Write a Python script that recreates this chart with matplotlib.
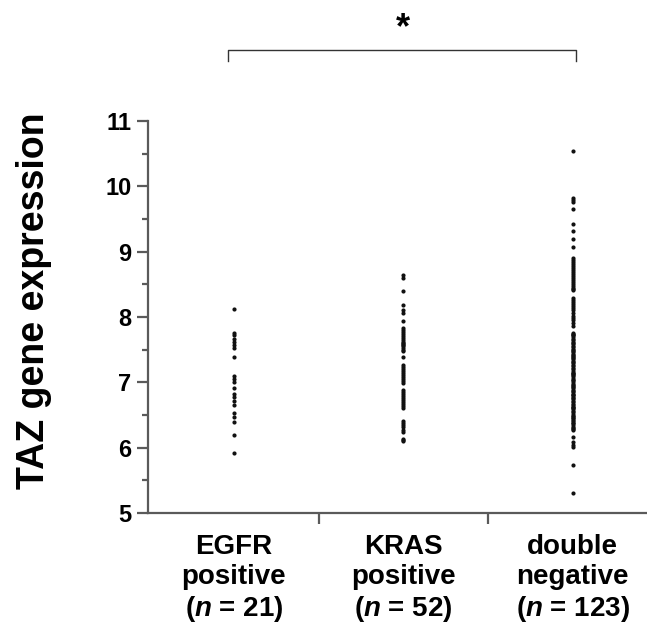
import matplotlib
matplotlib.use("Agg")
import matplotlib.pyplot as plt

plt.rcParams["font.family"] = ["Liberation Sans", "DejaVu Sans"]
plt.rcParams["mathtext.fontset"] = "custom"
plt.rcParams["mathtext.it"] = "Liberation Sans:italic:bold"
plt.rcParams["mathtext.rm"] = "Liberation Sans:bold"

# ---- data ----
groups = ["EGFR\npositive\n($n$ = 21)", "KRAS\npositive\n($n$ = 52)", "double\nnegative\n($n$ = 123)"]

egfr = [8.13, 7.76, 7.72, 7.67, 7.62, 7.57, 7.52, 7.39, 7.10, 7.05, 7.01,
        6.91, 6.82, 6.77, 6.71, 6.65, 6.53, 6.47, 6.40, 6.20, 5.92]

kras = [8.64, 8.60, 8.40, 8.18, 8.11, 8.06, 7.94,
        7.83, 7.80, 7.77, 7.74, 7.71, 7.68, 7.65, 7.62, 7.60, 7.58, 7.57, 7.55, 7.52, 7.50, 7.48,
        7.39,
        7.27, 7.24, 7.20, 7.17, 7.14, 7.11, 7.08, 7.05, 7.02, 6.99,
        6.88, 6.85, 6.82, 6.79, 6.76, 6.73, 6.70, 6.67, 6.64, 6.61,
        6.41, 6.38, 6.35, 6.31, 6.27, 6.24,
        6.14, 6.12, 6.10]

double_neg = [10.54, 9.82, 9.79, 9.76, 9.65, 9.42, 9.31, 9.19, 9.07,
              8.90, 8.87, 8.84, 8.81, 8.78, 8.75, 8.72, 8.69, 8.66, 8.63,
              8.60, 8.57, 8.54, 8.51, 8.48, 8.45, 8.43, 8.41,
              8.29, 8.26, 8.23, 8.20, 8.17, 8.14, 8.10, 8.06, 8.02, 7.98, 7.95, 7.91,
              7.86,
              7.76, 7.745, 7.73, 7.72, 7.69, 7.66, 7.65, 7.62, 7.60, 7.58, 7.55,
              7.54, 7.51, 7.50, 7.48, 7.47, 7.44, 7.42, 7.40, 7.39, 7.37, 7.36, 7.33,
              7.31, 7.29, 7.26, 7.25, 7.22, 7.20, 7.18, 7.15, 7.14, 7.12, 7.11,
              7.09, 7.07, 7.04, 7.03, 7.00, 6.98, 6.96, 6.95, 6.93, 6.92, 6.89,
              6.87, 6.85, 6.82, 6.81, 6.80, 6.78, 6.76, 6.74, 6.71, 6.70, 6.67,
              6.65, 6.63, 6.62, 6.60, 6.59, 6.56, 6.54, 6.52, 6.49, 6.48, 6.46, 6.45,
              6.43, 6.41, 6.38, 6.37, 6.34, 6.32, 6.30, 6.28, 6.27,
              6.17, 6.09, 6.04, 6.01,
              5.73, 5.31]

series = [egfr, kras, double_neg]
yticks = [5, 6, 7, 8, 9, 10, 11]

AXC = "#5a5a5a"

fig = plt.figure(figsize=(6.47, 6.32), dpi=100)
ax = fig.add_axes([148 / 647, 119 / 632, 499 / 647, 392 / 632])

for i, vals in enumerate(series, start=1):
    ax.scatter([i] * len(vals), vals, s=9, color="#111111", linewidths=0, zorder=3)

ax.set_xlim(0.492, 3.44)
ax.set_ylim(5, 11)

for s in ("top", "right"):
    ax.spines[s].set_visible(False)
for s in ("left", "bottom"):
    ax.spines[s].set_color(AXC)
    ax.spines[s].set_linewidth(1.6)

ax.set_yticks(yticks)
ax.set_yticklabels([str(t) for t in yticks], fontsize=17, fontweight="bold")
ax.set_yticks([5.5, 6.5, 7.5, 8.5, 9.5, 10.5], minor=True)
ax.tick_params(axis="y", which="major", length=8, width=1.6, color=AXC, pad=4)
ax.tick_params(axis="y", which="minor", length=4, width=1.6, color=AXC)

ax.set_xticks([1, 2, 3])
ax.set_xticklabels(groups, fontsize=20, fontweight="bold", linespacing=1.2)
ax.set_xticks([1.5, 2.5], minor=True)
ax.tick_params(axis="x", which="major", length=0, pad=15)
ax.tick_params(axis="x", which="minor", length=8, width=1.6, color=AXC)

ax.set_ylabel("TAZ gene expression", fontsize=27, fontweight="bold")
ax.yaxis.set_label_coords(-0.192, 0.541)

# significance bracket
ax.plot([0.965, 0.965, 3.02, 3.02], [11.92, 12.08, 12.08, 11.92], color="#333333",
        lw=1.0, clip_on=False)
ax.text(2.0, 12.41, "*", ha="center", va="center", fontsize=26, fontweight="bold",
        clip_on=False)

fig.savefig("out.png", dpi=100, facecolor="white")
